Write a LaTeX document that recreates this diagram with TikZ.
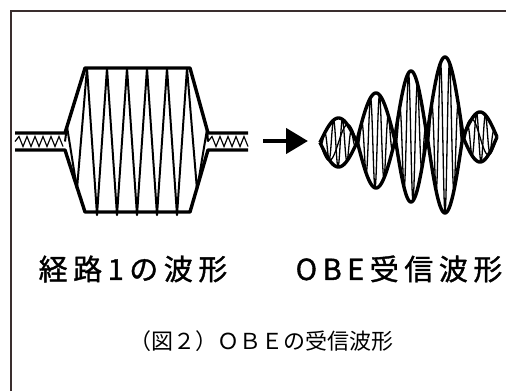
\documentclass[tikz,border=0pt]{standalone}
\usepackage{fontspec}
\newfontfamily\jpfont{Noto Sans CJK JP}
\usetikzlibrary{arrows.meta}

\definecolor{framegray}{RGB}{58,46,46}

% one lobe of the received burst: lens envelope with carrier inside
% #1,#2 = left/right end, #3,#4 = top/bottom of the lobe
\newcommand{\lobe}[4]{%
  \draw[envline] plot[domain=#1:#2, samples=50] (\x, {(#3+#4)/2 - (#4-#3)/2*sin(180*(\x-#1)/(#2-#1))});
  \draw[envline] plot[domain=#1:#2, samples=50] (\x, {(#3+#4)/2 + (#4-#3)/2*sin(180*(\x-#1)/(#2-#1))});
  \draw[carrier] plot[domain=#1:#2, samples=160] (\x, {(#3+#4)/2 + (#4-#3)/2*sin(180*(\x-#1)/(#2-#1))*cos(360*(\x-#1)/9)});
}

\begin{document}
\begin{tikzpicture}[
    x=1pt, y=-1pt,
    frame/.style={draw=framegray, line width=2pt},
    envline/.style={line width=3.4pt, line join=round},
    carrier/.style={line width=1.3pt, line join=round},
    heavycarrier/.style={line width=2pt, line join=round},
    bandline/.style={line width=1.2pt},
    pointer/.style={line width=4.5pt, -{Triangle[length=22pt,width=25pt]}},
    wavetext/.style={font=\jpfont\fontsize{29}{34}\selectfont\addfontfeature{LetterSpace=19,FakeBold=1.2}, inner sep=0pt},
    captext/.style={font=\jpfont\fontsize{22}{26}\selectfont, inner sep=0pt},
    declare function={env(\t)=(\t<85) ? 8.5+(\t-65)*3.25 : ((\t>190) ? 73.5-(\t-190)*65/18 : 73.5);}
]
\useasboundingbox (0,0) rectangle (506,391);
\fill[white] (0,0) rectangle (506,391);

% frame (only the top and left edges are inside the page)
\draw[frame] (11,391) -- (11,11) -- (506,11);

% path 1: constant burst between two bands
\draw[envline] (15,133) -- (65,133) -- (85,68) -- (190,68) -- (208,133) -- (248,133);
\draw[envline] (15,150) -- (65,150) -- (85,212) -- (190,212) -- (208,150) -- (248,150);
\draw[heavycarrier] (65,141.5) \foreach \k in {0,...,14} { -- ({67+10*\k}, {141.5-env(67+10*\k)*cos(180*\k)}) } -- (208,141.5);
\draw[bandline] (15,141.5) \foreach \k in {1,...,12} { -- ({15+4*\k}, {141.5+5*cos(180*\k)}) };
\draw[bandline] (208,141.5) \foreach \k in {1,...,10} { -- ({208+4*\k}, {141.5+5*cos(180*\k)}) };

% arrow between the two waveforms
\coordinate (arrS) at (263,141);
\coordinate (arrE) at (308,141);
\draw[pointer] (arrS) -- (arrE);

% received waveform: lobes growing to the right
\lobe{320}{357}{118}{167}
\draw[carrier] plot[domain=320:357, samples=60] (\x, {142.5 + 18*sin(360*(\x-320)/37)});
\lobe{357}{395}{93}{188}
\lobe{395}{427}{71}{202}
\lobe{427}{463}{57}{213}
\lobe{463}{497}{112}{162}
\draw[carrier] plot[domain=463:497, samples=60] (\x, {137 - 18*sin(360*(\x-463)/34)});

% labels
\node[wavetext] (path1) at (133,269) {経路1の波形};
\node[wavetext] (obe) at (399,269) {OBE受信波形};
\node[captext] (cap) at (261,341) {（図２）ＯＢＥの受信波形};
\end{tikzpicture}
\end{document}
